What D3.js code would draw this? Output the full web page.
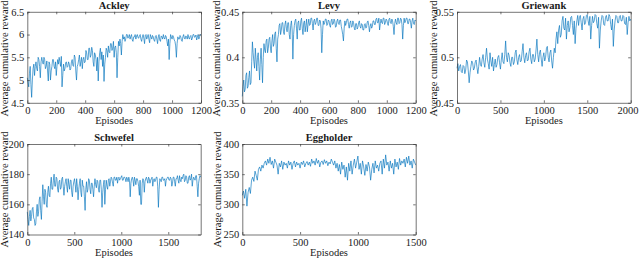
<!DOCTYPE html>
<html><head><meta charset="utf-8">
<script src="https://cdn.jsdelivr.net/npm/d3@7"></script>
<style>html,body{margin:0;padding:0;background:#fff;}svg{display:block;font-family:"Liberation Serif","Times New Roman",serif;}</style>
</head><body>
<svg id="chart" width="640" height="260"></svg>
<script>
// ---------- data ----------
const titles = ["Ackley", "Levy", "Griewank", "Schwefel", "Eggholder"];
const xLabel = "Episodes";
const yLabel = "Average cumulative reward";

const ackleyStep = 5;
const ackleyReward = [
 5.05,4.95,4.85,5.15,5.3,4.9,4.62,5.0,5.25,5.35,5.1,5.3,5.4,5.25,5.2,5.5,5.45,5.3,5.05,5.4,
 5.5,5.4,5.35,5.5,5.45,5.25,5.3,5.42,5.2,4.98,5.4,5.35,5.0,5.2,5.3,5.45,5.45,5.3,5.25,5.4,
 5.1,5.3,5.45,5.35,5.5,5.4,5.3,5.52,4.85,5.1,5.35,5.2,5.25,5.38,5.4,5.28,5.3,5.4,5.35,5.22,
 5.25,5.4,5.45,5.32,5.3,5.55,5.5,5.2,5.0,5.3,5.35,5.45,5.55,5.3,5.4,5.5,5.25,5.45,5.5,5.38,
 5.4,5.65,5.6,5.45,5.45,5.7,5.7,5.5,5.55,5.72,5.65,5.4,5.3,5.6,5.55,5.45,5.2,5.5,4.98,5.4,
 5.6,5.7,5.45,5.62,5.3,5.55,4.97,5.35,5.5,5.7,5.65,5.5,5.75,5.62,5.6,5.8,5.8,5.65,5.7,5.85,
 5.5,5.72,5.75,5.6,5.05,5.5,5.85,5.75,5.9,5.8,5.55,5.85,6.0,5.9,5.95,5.85,5.9,6.0,6.0,5.92,
 5.95,6.0,5.9,5.96,6.0,5.88,5.85,5.95,5.95,6.0,5.9,5.97,6.0,5.93,5.92,5.98,6.0,5.9,5.85,5.95,
 6.0,5.92,5.8,5.98,6.0,5.9,5.95,6.0,5.9,5.82,6.0,5.95,5.9,5.98,5.95,5.88,5.85,5.96,5.98,5.9,
 5.8,5.95,6.0,5.88,5.85,5.97,5.95,5.9,6.0,5.93,5.9,5.98,5.95,5.85,5.75,5.9,5.45,5.8,6.0,5.95,
 5.9,5.98,5.95,5.88,5.85,5.75,5.5,5.8,5.95,5.9,5.9,5.98,5.95,5.87,5.85,5.95,6.0,5.92,5.9,5.97,
 5.95,5.9,6.0,5.93,5.9,5.96,5.98,5.88,5.92,6.0,6.0,5.94,5.95,5.99,5.88,5.94,6.0,5.9,5.95,6.0,
 6.0];

const levyStep = 5;
const levyReward = [
 0.357,0.368,0.375,0.362,0.365,0.38,0.383,0.366,0.368,0.378,0.385,0.37,0.372,0.395,0.417,0.405,0.395,0.388,0.41,0.398,
 0.385,0.4,0.405,0.39,0.375,0.398,0.41,0.392,0.372,0.4,0.415,0.408,0.405,0.418,0.42,0.405,0.41,0.42,0.422,0.41,
 0.405,0.418,0.425,0.412,0.415,0.426,0.428,0.41,0.395,0.42,0.425,0.435,0.437,0.425,0.43,0.438,0.438,0.428,0.425,0.436,
 0.44,0.432,0.428,0.438,0.438,0.425,0.42,0.435,0.44,0.43,0.398,0.425,0.435,0.44,0.442,0.432,0.42,0.438,0.44,0.43,
 0.43,0.44,0.443,0.432,0.425,0.438,0.44,0.428,0.435,0.442,0.428,0.436,0.442,0.435,0.436,0.443,0.443,0.437,0.43,0.44,
 0.442,0.436,0.438,0.443,0.443,0.435,0.435,0.441,0.44,0.432,0.405,0.425,0.44,0.436,0.438,0.442,0.442,0.435,0.436,0.441,
 0.44,0.435,0.433,0.44,0.442,0.436,0.437,0.442,0.44,0.433,0.434,0.44,0.442,0.437,0.436,0.441,0.441,0.434,0.43,0.425,
 0.418,0.432,0.44,0.435,0.438,0.442,0.442,0.436,0.432,0.438,0.44,0.433,0.434,0.44,0.438,0.432,0.43,0.437,0.437,0.431,
 0.433,0.438,0.44,0.434,0.432,0.437,0.436,0.43,0.43,0.436,0.437,0.432,0.433,0.439,0.44,0.435,0.428,0.434,0.437,0.432,
 0.434,0.44,0.44,0.436,0.436,0.442,0.443,0.438,0.438,0.443,0.43,0.437,0.442,0.438,0.437,0.443,0.443,0.436,0.438,0.442,
 0.441,0.437,0.435,0.442,0.443,0.438,0.437,0.442,0.44,0.434,0.425,0.437,0.442,0.438,0.436,0.443,0.443,0.437,0.438,0.443,
 0.442,0.436,0.42,0.435,0.443,0.438,0.44,0.443,0.443,0.437,0.437,0.442,0.442,0.438,0.432,0.44,0.443,0.437,0.436,0.441,
 0.44];

const griewankStep = 10;
const griewankReward = [
 0.488,0.493,0.485,0.49,0.492,0.484,0.483,0.491,0.49,0.482,0.486,0.497,0.495,0.485,0.472,0.483,0.49,0.496,0.494,0.486,
 0.488,0.495,0.497,0.489,0.482,0.49,0.5,0.492,0.49,0.498,0.503,0.494,0.489,0.5,0.51,0.498,0.493,0.487,0.505,0.496,
 0.49,0.5,0.485,0.492,0.498,0.489,0.492,0.5,0.502,0.494,0.487,0.497,0.505,0.495,0.493,0.503,0.518,0.5,0.495,0.505,
 0.502,0.494,0.49,0.5,0.5,0.492,0.495,0.505,0.508,0.497,0.492,0.5,0.503,0.495,0.496,0.506,0.515,0.5,0.494,0.502,
 0.505,0.496,0.497,0.506,0.51,0.498,0.493,0.503,0.503,0.495,0.498,0.508,0.52,0.503,0.495,0.505,0.508,0.498,0.49,0.5,
 0.505,0.496,0.5,0.51,0.512,0.5,0.495,0.505,0.508,0.496,0.488,0.5,0.51,0.505,0.52,0.528,0.515,0.53,0.535,0.522,
 0.525,0.54,0.545,0.532,0.53,0.543,0.52,0.535,0.54,0.528,0.533,0.544,0.545,0.535,0.525,0.54,0.515,0.532,0.54,0.546,
 0.535,0.544,0.546,0.538,0.53,0.542,0.545,0.536,0.538,0.546,0.547,0.54,0.535,0.545,0.52,0.535,0.545,0.538,0.54,0.547,
 0.546,0.537,0.532,0.544,0.51,0.53,0.54,0.546,0.545,0.536,0.535,0.544,0.546,0.54,0.54,0.547,0.545,0.536,0.53,0.542,
 0.512,0.53,0.54,0.546,0.545,0.538,0.538,0.545,0.546,0.54,0.54,0.546,0.545,0.537,0.536,0.544,0.525,0.538,0.545,0.54,
 0.542];

const schwefelStep = 7.5;
const schwefelReward = [
 155,150,146,152,156,149,152,157,158,151,150,146,147,155,160,152,155,163,165,156,
 150,162,173,165,160,170,168,160,158,168,172,166,165,174,178,170,170,176,180,172,
 172,178,177,170,168,175,176,170,171,177,178,172,166,172,175,177,172,168,177,173,
 170,176,176,168,165,172,175,177,173,168,177,172,163,170,174,177,168,165,176,172,
 172,165,156,170,175,168,170,177,176,170,167,174,174,170,165,172,177,173,171,176,
 175,170,168,176,176,170,158,168,173,176,160,170,176,172,170,176,177,172,175,178,
 177,174,172,178,178,176,176,178,174,177,178,176,177,178,179,176,176,178,178,177,
 175,178,177,175,178,176,165,174,177,178,176,172,178,176,173,177,177,175,172,166,
 176,160,160,174,177,176,168,175,177,178,176,174,178,177,174,176,177,178,172,176,
 177,175,176,178,178,172,158,170,177,176,175,178,178,176,176,177,172,176,177,178,
 178,176,176,178,177,172,174,178,178,175,172,177,177,179,176,174,179,176,175,178,
 177,179,180,175,176,179,178,174,174,178,179,176,177,180,172,176,178,177,176,179,
 179,172,165,174,177,179,178];

const eggholderStep = 10;
const eggholderReward = [
 315,322,310,325,297,320,328,318,340,345,
 338,355,348,340,358,362,355,365,360,368,
 372,365,375,368,378,366,372,360,375,370,
 365,350,368,362,372,358,370,365,368,360,
 372,365,370,358,368,372,362,370,365,368,
 360,370,366,372,362,368,371,365,370,363,
 375,368,372,365,376,368,373,362,370,372,
 366,374,368,372,364,370,367,375,370,365,
 372,360,368,355,366,350,370,358,365,345,
 362,340,368,355,372,350,365,375,360,370,
 380,358,368,350,372,362,348,366,355,370,
 362,340,358,368,352,372,360,365,355,368,
 372,350,375,360,382,365,370,355,372,360,
 368,350,375,362,370,358,376,365,372,368,
 375,362,378,368,380,365,372,360,375,370,
 365];

const xDomains = [[0,1200],[0,1200],[0,2000],[0,1845],[0,1500]];
const yDomains = [[4.5,6.5],[0.35,0.45],[0.45,0.55],[140,200],[250,400]];
const xTicks = [[0,200,400,600,800,1000,1200],[0,200,400,600,800,1000,1200],[0,500,1000,1500,2000],[0,500,1000,1500],[0,500,1000,1500]];
const yTicks = [[4.5,5,5.5,6,6.5],[0.35,0.4,0.45],[0.45,0.5,0.55],[140,160,180,200],[250,300,350,400]];

// ---------- layout ----------
const series = [
  {step: ackleyStep, values: ackleyReward},
  {step: levyStep, values: levyReward},
  {step: griewankStep, values: griewankReward},
  {step: schwefelStep, values: schwefelReward},
  {step: eggholderStep, values: eggholderReward}
];
const boxes = [
  {l:27.3, r:201, t:11.8, b:102.8, yl:4.5, yc:58.5},
  {l:242.3, r:415.7, t:11.8, b:102.8, yl:216, yc:58.5},
  {l:457, r:630.7, t:11.8, b:102.8, yl:433, yc:58.5},
  {l:27.3, r:200.7, t:144, b:234.5, yl:4.5, yc:189.5},
  {l:242.3, r:415.7, t:144, b:234.5, yl:217, yc:189.5}
];
const lineColor = "#0072BD";
const axisColor = "#3a3a3a";
const textColor = "#1a1a1a";
const tickLen = 2.5;
const fontFam = "'Liberation Serif','Times New Roman',serif";

const svg = d3.select("#chart");

series.forEach((s, i) => {
  const B = boxes[i];
  const x = d3.scaleLinear().domain(xDomains[i]).range([B.l, B.r]);
  const y = d3.scaleLinear().domain(yDomains[i]).range([B.b, B.t]);
  const g = svg.append("g");
  const data = s.values.map((v, k) => [k * s.step, v]);

  g.append("path")
    .datum(data)
    .attr("fill", "none")
    .attr("stroke", lineColor)
    .attr("stroke-width", 0.65)
    .attr("stroke-linejoin", "round")
    .attr("d", d3.line().x(d => x(d[0])).y(d => y(d[1])));

  const fmt = d => String(+d.toFixed(4));
  const axB = d3.axisBottom(x).tickValues(xTicks[i]).tickSizeInner(-tickLen).tickSizeOuter(0).tickPadding(3.8).tickFormat(fmt);
  const axT = d3.axisTop(x).tickValues(xTicks[i]).tickSizeInner(-tickLen).tickSizeOuter(0).tickFormat("");
  const axL = d3.axisLeft(y).tickValues(yTicks[i]).tickSizeInner(-tickLen).tickSizeOuter(0).tickPadding(3).tickFormat(fmt);
  const axR = d3.axisRight(y).tickValues(yTicks[i]).tickSizeInner(-tickLen).tickSizeOuter(0).tickFormat("");

  const style = sel => {
    sel.attr("font-family", fontFam).attr("font-size", 10.5);
    sel.select(".domain").attr("stroke", axisColor).attr("stroke-width", 0.7);
    sel.selectAll(".tick line").attr("stroke", axisColor).attr("stroke-width", 0.7);
    sel.selectAll(".tick text").attr("fill", textColor);
  };
  const gb = g.append("g").attr("transform", `translate(0,${B.b})`).call(axB).call(style);
  g.append("g").attr("transform", `translate(0,${B.t})`).call(axT).call(style);
  g.append("g").attr("transform", `translate(${B.l},0)`).call(axL).call(style);
  g.append("g").attr("transform", `translate(${B.r},0)`).call(axR).call(style);

  // keep the last tick label inside the picture
  gb.selectAll(".tick").each(function(d) {
    const t = d3.select(this).select("text");
    const w = t.node().getComputedTextLength();
    const over = x(d) + w / 2 - 638;
    if (over > 0) t.attr("dx", -over);
  });

  g.append("text")
    .attr("x", (B.l + B.r) / 2).attr("y", B.t - 3)
    .attr("text-anchor", "middle")
    .attr("font-family", fontFam).attr("font-size", 10.5).attr("font-weight", "bold")
    .attr("fill", textColor)
    .text(titles[i]);
  g.append("text")
    .attr("x", (B.l + B.r) / 2).attr("y", B.b + 21)
    .attr("text-anchor", "middle")
    .attr("font-family", fontFam).attr("font-size", 10.5).attr("fill", textColor)
    .text(xLabel);
  g.append("text")
    .attr("transform", `translate(${B.yl + 3.5},${B.yc}) rotate(-90)`)
    .attr("text-anchor", "middle")
    .attr("font-family", fontFam).attr("font-size", 10.5).attr("fill", textColor)
    .text(yLabel);
});
</script>
</body></html>
